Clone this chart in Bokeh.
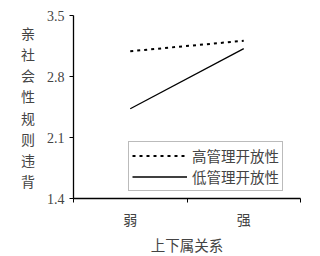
from bokeh.plotting import figure
from bokeh.models import FixedTicker, Range1d, Legend, LegendItem
from bokeh.embed import file_html
from bokeh.resources import INLINE

categories = ["弱", "强"]
high_open = [3.09, 3.21]
low_open = [2.43, 3.12]
y_ticks = [1.4, 2.1, 2.8, 3.5]
series_names = ["高管理开放性", "低管理开放性"]
y_title = "亲社会性规则违背"
x_title = "上下属关系"

xs = [i + 0.5 for i in range(len(categories))]

p = figure(frame_width=227, frame_height=183, output_backend="svg", toolbar_location=None,
           x_range=Range1d(0, len(categories)), y_range=Range1d(y_ticks[0], y_ticks[-1]),
           min_border_left=73, min_border_right=12, min_border_top=15, min_border_bottom=50)
p.outline_line_color = None
p.xgrid.visible = False
p.ygrid.visible = False

r1 = p.line(xs, high_open, line_color="black", line_width=2, line_dash="3 4")
r2 = p.line(xs, low_open, line_color="black", line_width=1.3)

serif = "Liberation Serif"
cjk = "Noto Sans CJK SC"

p.yaxis.ticker = FixedTicker(ticks=y_ticks)
p.yaxis.major_label_overrides = {t: f"{t:.1f}" for t in y_ticks}
p.yaxis.major_label_text_font = serif
p.yaxis.major_label_text_font_size = "14px"
p.yaxis.major_tick_out = 4
p.yaxis.major_tick_in = 0
p.yaxis.minor_tick_line_color = None
p.yaxis.axis_label = "\n".join(y_title)
p.yaxis.axis_label_orientation = "horizontal"
p.yaxis.axis_label_text_font = cjk
p.yaxis.axis_label_text_font_style = "normal"
p.yaxis.axis_label_text_font_size = "14px"
p.yaxis.axis_label_text_line_height = 1.06
p.yaxis.axis_label_standoff = 9
p.yaxis.axis_line_width = 1.3

p.xaxis.ticker = FixedTicker(ticks=xs, minor_ticks=list(range(len(categories) + 1)))
p.xaxis.major_label_overrides = {x: c for x, c in zip(xs, categories)}
p.xaxis.major_label_text_font = cjk
p.xaxis.major_label_text_font_size = "14px"
p.xaxis.major_tick_out = 0
p.xaxis.major_tick_in = 0
p.xaxis.minor_tick_out = 4
p.xaxis.minor_tick_in = 0
p.xaxis.major_label_standoff = 6
p.xaxis.axis_label = x_title
p.xaxis.axis_label_text_font = cjk
p.xaxis.axis_label_text_font_style = "normal"
p.xaxis.axis_label_text_font_size = "14.5px"
p.xaxis.axis_label_standoff = 2
p.xaxis.axis_line_width = 1.3

legend = Legend(items=[LegendItem(label=series_names[0], renderers=[r1]),
                       LegendItem(label=series_names[1], renderers=[r2])],
                location=(55, 7), label_text_font=cjk, label_text_font_size="14.5px",
                glyph_width=55, glyph_height=15, spacing=0, padding=3, margin=0,
                label_standoff=5, border_line_color="#777777", border_line_width=1,
                label_height=15)
p.add_layout(legend)

open("out.html", "w").write(file_html(p, INLINE))
